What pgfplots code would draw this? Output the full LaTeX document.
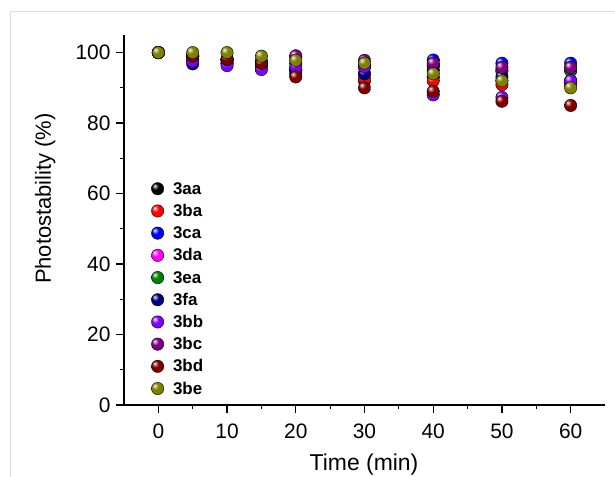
\documentclass[border=0pt]{standalone}
\usepackage{fontspec}
\setmainfont{Liberation Sans}
\usepackage{pgfplots}
\pgfplotsset{compat=1.18}
\usetikzlibrary{plotmarks}

\definecolor{c3aa}{RGB}{0,0,0}
\definecolor{c3ba}{RGB}{255,0,0}
\definecolor{c3ca}{RGB}{0,0,255}
\definecolor{c3da}{RGB}{255,0,255}
\definecolor{c3ea}{RGB}{0,128,0}
\definecolor{c3fa}{RGB}{0,0,128}
\definecolor{c3bb}{RGB}{128,0,255}
\definecolor{c3bc}{RGB}{128,0,128}
\definecolor{c3bd}{RGB}{128,0,0}
\definecolor{c3be}{RGB}{128,128,0}

% brighter glossy ball than the stock tikz one
\makeatletter
\pgfdeclareradialshading[tikz@ball]{sball}{\pgfqpoint{-12bp}{12bp}}{%
  color(0bp)=(white);
  color(5bp)=(tikz@ball!45!white);
  color(14bp)=(tikz@ball);
  color(38bp)=(tikz@ball);
  color(55bp)=(tikz@ball!65!black);
  color(70bp)=(tikz@ball!45!black)}
\makeatother
\pgfdeclareplotmark{sball}{\shade[shading=sball] (0pt,0pt) circle (\pgfplotmarksize);}

\pgfplotsset{
  ballstyle/.style={only marks, mark=sball, mark size=6.2bp, mark options={ball color=#1}},
}

\begin{document}
\begin{tikzpicture}
\useasboundingbox (0,0) rectangle (615bp,477bp);
% light frame of the original figure
\draw[black!13, line width=1bp] (10bp,0) -- (10bp,465bp) -- (615bp,465bp);
\begin{axis}[
  at={(124bp,72bp)}, anchor=south west,
  scale only axis, width=481bp, height=370bp,
  xmin=-5, xmax=65, ymin=0, ymax=105,
  axis lines*=left,
  axis line style={-, line width=1.2bp},
  every tick/.style={black, line width=1.2bp},
  tick align=outside,
  major tick length=8bp, minor tick length=4bp,
  xtick={0,10,...,60}, minor x tick num=1,
  ytick={0,20,...,100}, minor y tick num=1,
  /pgf/number format/assume math mode=true,
  tick label style={font=\fontsize{21}{21}\selectfont},
  xticklabel style={yshift=-7bp},
  yticklabel style={xshift=-2bp},
  xlabel={Time (min)}, ylabel={Photostability (\%)},
  xlabel style={font=\fontsize{23}{23}\selectfont, at={(axis description cs:0.499,-0.162)}, anchor=center},
  ylabel style={font=\fontsize{22}{22}\selectfont, at={(axis description cs:-0.164,0.558)}, anchor=center},
  legend cell align=left,
  legend image code/.code={\draw[#1] plot coordinates {(0bp,0bp)};},
  legend style={draw=none, fill=none,
    at={(axis description cs:0.050,0.608)}, anchor=north west,
    font=\bfseries\fontsize{17}{17}\selectfont,
    row sep=9.2bp, column sep=8bp,
    nodes={inner sep=1bp, text height=11bp, text depth=0bp}},
]
\addplot[ballstyle=c3aa] coordinates {(0,100)(5,99)(10,98)(15,97)(20,95)(30,92)(40,93)(50,92)(60,92)};
\addlegendentry{3aa}
\addplot[ballstyle=c3ba] coordinates {(0,100)(5,99)(10,98)(15,97)(20,94)(30,92.5)(40,92)(50,90.9)(60,91)};
\addlegendentry{3ba}
\addplot[ballstyle=c3ca] coordinates {(0,100)(5,98)(10,97)(15,97)(20,95)(30,94)(40,97.9)(50,97)(60,97)};
\addlegendentry{3ca}
\addplot[ballstyle=c3da] coordinates {(0,100)(5,99)(10,98)(15,97.5)(20,98.5)(30,96)(40,96)(50,95)(60,95)};
\addlegendentry{3da}
\addplot[ballstyle=c3ea] coordinates {(0,100)(5,99)(10,98)(15,97)(20,97)(30,96)(40,96.5)(50,94.7)(60,94.9)};
\addlegendentry{3ea}
\addplot[ballstyle=c3fa] coordinates {(0,100)(5,96.8)(10,97)(15,96)(20,95.2)(30,94)(40,95)(50,93.1)(60,92)};
\addlegendentry{3fa}
\addplot[ballstyle=c3bb] coordinates {(0,100)(5,97.6)(10,96.3)(15,95.2)(20,96)(30,96)(40,88)(50,87.3)(60,92)};
\addlegendentry{3bb}
\addplot[ballstyle=c3bc] coordinates {(0,100)(5,99)(10,98)(15,97)(20,99.1)(30,97.8)(40,97)(50,95.8)(60,95.8)};
\addlegendentry{3bc}
\addplot[ballstyle=c3bd] coordinates {(0,100)(5,99)(10,98.2)(15,97)(20,93.1)(30,90)(40,89)(50,86.2)(60,85)};
\addlegendentry{3bd}
\addplot[ballstyle=c3be] coordinates {(0,100)(5,100)(10,100)(15,99)(20,97.8)(30,97)(40,94)(50,92)(60,90)};
\addlegendentry{3be}
\end{axis}
\end{tikzpicture}
\end{document}
